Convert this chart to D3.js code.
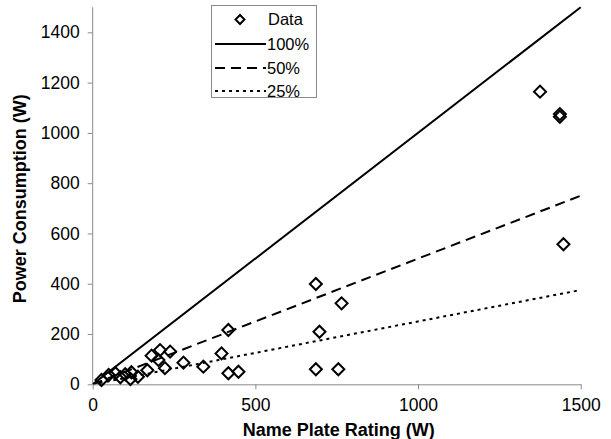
<!DOCTYPE html>
<html>
<head>
<meta charset="utf-8">
<script src="https://cdn.jsdelivr.net/npm/d3@7"></script>
<style>
  html, body { margin: 0; padding: 0; background: #fff; }
  svg { display: block; font-family: "Liberation Sans", Arial, sans-serif; }
</style>
</head>
<body>
<svg id="chart" width="611" height="439"></svg>
<script>
// Measured devices: name plate rating (W) vs measured power consumption (W)
const ratingW = [27, 49, 70, 85, 100, 116, 119, 139, 168, 181, 202, 207, 222, 238, 279, 340, 396, 417, 417, 448,
                 686, 697, 765, 686, 755, 1375, 1436, 1436, 1447];
const consumptionW = [17, 37, 44, 28, 40, 21, 48, 30, 56, 114, 97, 136, 64, 130, 86, 70, 123, 216, 44, 50,
                      399, 209, 322, 60, 60, 1164, 1075, 1064, 557];

// Reference lines: consumption as a fraction of the rating
const refNames = ["100%", "50%", "25%"];
const refFractions = [1, 0.5, 0.25];
const refDash = [null, "10,6", "3,4"];

const xTicks = [0, 500, 1000, 1500];
const yTicks = [0, 200, 400, 600, 800, 1000, 1200, 1400];

const svg = d3.select("#chart");
const plotLeft = 92.7, plotRight = 580.7, plotTop = 7.2, plotBottom = 384.3;

const x = d3.scaleLinear().domain([0, 1500]).range([plotLeft, plotRight]);
const y = d3.scaleLinear().domain([0, 1500]).range([plotBottom, plotTop]);

svg.append("defs").append("clipPath").attr("id", "plot")
  .append("rect").attr("x", plotLeft).attr("y", plotTop - 3)
  .attr("width", plotRight - plotLeft + 4).attr("height", plotBottom - plotTop + 3);

// Axes
const axisColor = "#8a8a8a";
const fmt = d3.format("d");
const gx = svg.append("g").attr("transform", `translate(0,${plotBottom})`)
  .call(d3.axisBottom(x).tickValues(xTicks).tickFormat(fmt).tickSize(5).tickPadding(9).tickSizeOuter(0));
const gy = svg.append("g").attr("transform", `translate(${plotLeft},0)`)
  .call(d3.axisLeft(y).tickValues(yTicks).tickFormat(fmt).tickSize(5).tickPadding(8).tickSizeOuter(0));
[gx, gy].forEach(g => {
  g.select(".domain").attr("stroke", axisColor).attr("stroke-width", 1);
  g.selectAll(".tick line").attr("stroke", axisColor);
  g.selectAll(".tick text").attr("fill", "#000").style("font-size", "17.5px")
    .style("font-family", "'Liberation Sans', Arial, sans-serif");
});
gy.select(".domain").attr("d", `M0,${plotTop}V${plotBottom}`);

// Axis titles
svg.append("text").attr("x", (plotLeft + plotRight) / 2 + 2).attr("y", 436)
  .attr("text-anchor", "middle").style("font-weight", "bold").style("font-size", "18px")
  .text("Name Plate Rating (W)");
svg.append("text").attr("transform", `translate(26,${(plotTop + plotBottom) / 2 + 3}) rotate(-90)`)
  .attr("text-anchor", "middle").style("font-weight", "bold").style("font-size", "18px")
  .text("Power Consumption (W)");

// Reference lines
const plot = svg.append("g").attr("clip-path", "url(#plot)");
refFractions.forEach((f, i) => {
  plot.append("line")
    .attr("x1", x(0)).attr("y1", y(0))
    .attr("x2", x(1500)).attr("y2", y(1500 * f))
    .attr("stroke", "#000").attr("stroke-width", 2)
    .attr("stroke-dasharray", refDash[i]);
});

// Data points as open diamonds
const diamond = d3.symbol().type(d3.symbolSquare).size(72);
svg.append("g").selectAll("path").data(ratingW.map((r, i) => [r, consumptionW[i]]))
  .join("path")
  .attr("d", diamond)
  .attr("transform", d => `translate(${x(d[0])},${y(d[1])}) rotate(45)`)
  .attr("fill", "none").attr("stroke", "#000").attr("stroke-width", 2);

// Legend
const lg = svg.append("g");
lg.append("rect").attr("x", 211.5).attr("y", 5.5).attr("width", 105).attr("height", 92)
  .attr("fill", "#fff").attr("stroke", axisColor).attr("stroke-width", 1);
const rowY = [19.5, 44, 68, 91];
lg.append("path").attr("d", d3.symbol().type(d3.symbolSquare).size(40)())
  .attr("transform", `translate(240,${rowY[0]}) rotate(45)`)
  .attr("fill", "none").attr("stroke", "#000").attr("stroke-width", 2);
lg.append("text").attr("x", 268).attr("y", rowY[0]).attr("dy", "0.35em")
  .style("font-size", "16.5px").text("Data");
refNames.forEach((name, i) => {
  const ry = rowY[i + 1];
  lg.append("line").attr("x1", 215).attr("x2", 266).attr("y1", ry).attr("y2", ry)
    .attr("stroke", "#000").attr("stroke-width", 2).attr("stroke-dasharray", refDash[i]);
  lg.append("text").attr("x", 267).attr("y", ry).attr("dy", "0.35em")
    .style("font-size", "16.5px").text(name);
});
</script>
</body>
</html>
